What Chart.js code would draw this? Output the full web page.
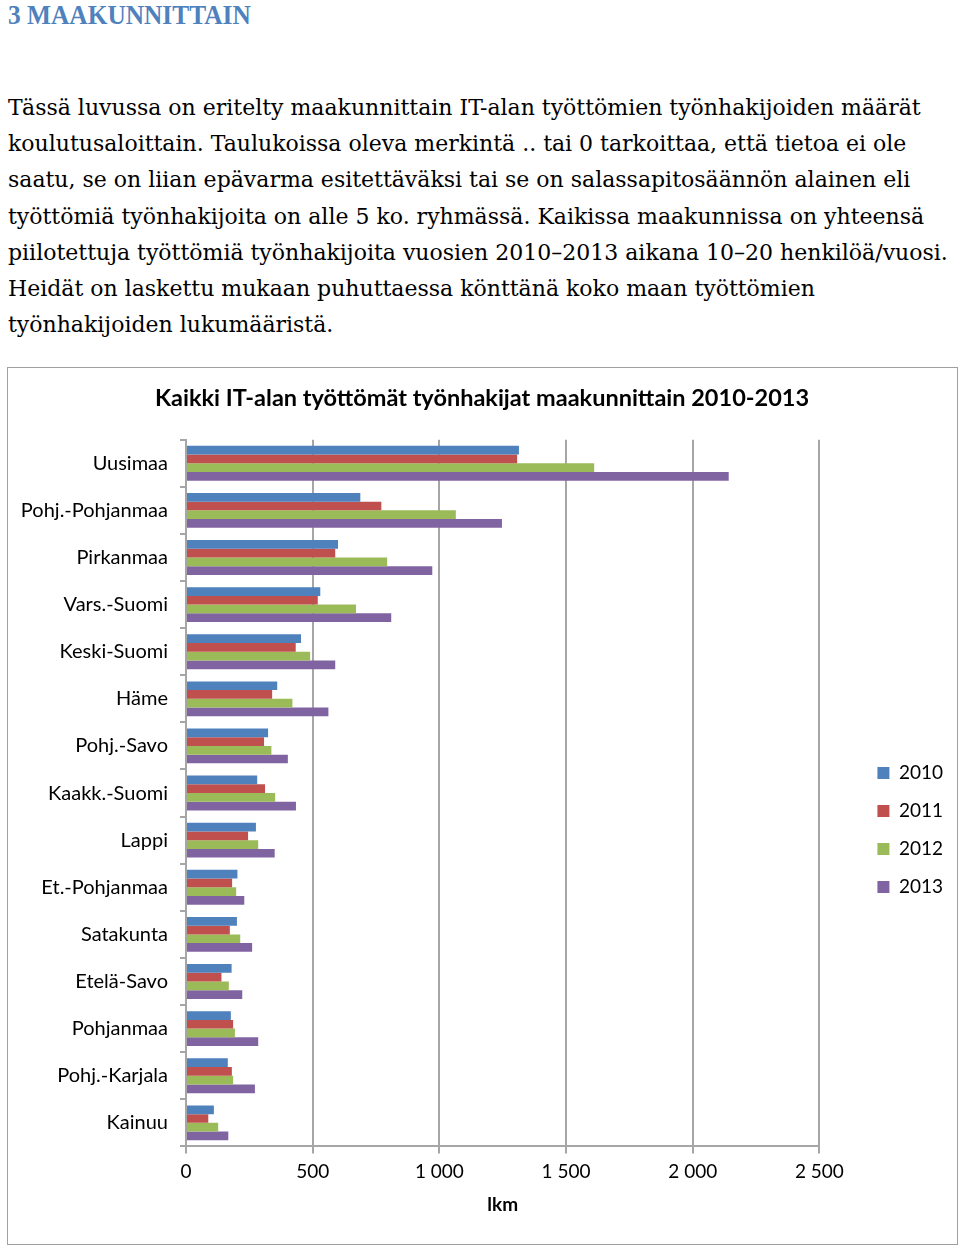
<!DOCTYPE html>
<html>
<head>
<meta charset="utf-8">
<script src="https://cdn.jsdelivr.net/npm/chart.js@4.4.1/dist/chart.umd.min.js"></script>
<style>
  body { margin: 0; background: #fff; width: 960px; height: 1247px; position: relative; overflow: hidden; }
  h1 { position: absolute; left: 8px; top: 0px; margin: 0; font-family: "Liberation Serif", serif; font-weight: bold;
       font-size: 27px; color: #4f81bd; transform: scaleX(0.94); transform-origin: 0 0; }
  .txt { position: absolute; left: 8px; top: 90px; margin: 0; font-family: "DejaVu Serif", serif; font-size: 22px;
         line-height: 36.2px; color: #000; white-space: nowrap; }
  .box { position: absolute; left: 7px; top: 367px; width: 949px; height: 876px; border: 1px solid #a0a0a0; }
  canvas { display: block; }
</style>
</head>
<body>
<h1>3 MAAKUNNITTAIN</h1>
<p class="txt">Tässä luvussa on eritelty maakunnittain IT-alan työttömien työnhakijoiden määrät<br>koulutusaloittain. Taulukoissa oleva merkintä .. tai 0 tarkoittaa, että tietoa ei ole<br>saatu, se on liian epävarma esitettäväksi tai se on salassapitosäännön alainen eli<br>työttömiä työnhakijoita on alle 5 ko. ryhmässä. Kaikissa maakunnissa on yhteensä<br>piilotettuja työttömiä työnhakijoita vuosien 2010–2013 aikana 10–20 henkilöä/vuosi.<br>Heidät on laskettu mukaan puhuttaessa könttänä koko maan työttömien<br>työnhakijoiden lukumääristä.</p>
<div class="box"><canvas id="itChart" width="949" height="876"></canvas></div>
<script>
// Maakunnat ja vuosien arvot (luettu kuvasta)
const regions = ['Uusimaa', 'Pohj.-Pohjanmaa', 'Pirkanmaa', 'Vars.-Suomi', 'Keski-Suomi', 'Häme', 'Pohj.-Savo',
  'Kaakk.-Suomi', 'Lappi', 'Et.-Pohjanmaa', 'Satakunta', 'Etelä-Savo', 'Pohjanmaa', 'Pohj.-Karjala', 'Kainuu'];
const y2010 = [1314, 688, 600, 530, 454, 360, 324, 281, 276, 203, 201, 180, 177, 165, 110];
const y2011 = [1307, 771, 589, 520, 433, 340, 308, 312, 245, 182, 173, 140, 186, 181, 88];
const y2012 = [1611, 1065, 794, 671, 490, 420, 337, 352, 285, 198, 214, 169, 193, 186, 127];
const y2013 = [2142, 1247, 972, 810, 589, 562, 402, 434, 350, 230, 261, 222, 285, 272, 167];
const xTicks = [0, 500, 1000, 1500, 2000, 2500];

const gridColor = '#a6a6a6';
const font = 'Lato';

// siirretään selitettä ja otsikkoa hieman, kuten alkuperäisessä
const layoutShift = {
  id: 'layoutShift',
  afterLayout(chart) {
    const lg = chart.legend;
    lg.left += 39; lg.right += 39;
    lg.top += 38; lg.bottom += 38;
    const t = chart.titleBlock;
    t.left += 21; t.right += 21;
  }
};

const ctx = document.getElementById('itChart').getContext('2d');
new Chart(ctx, {
  type: 'bar',
  data: {
    labels: regions,
    datasets: [
      { label: '2010', data: y2010, backgroundColor: '#4f81bd' },
      { label: '2011', data: y2011, backgroundColor: '#c0504d' },
      { label: '2012', data: y2012, backgroundColor: '#9bbb59' },
      { label: '2013', data: y2013, backgroundColor: '#8064a2' }
    ]
  },
  plugins: [layoutShift],
  options: {
    indexAxis: 'y',
    responsive: false,
    animation: false,
    datasets: { bar: { categoryPercentage: 0.74, barPercentage: 1.0 } },
    layout: { padding: { left: 0, right: 43, top: 0, bottom: 28 } },
    plugins: {
      title: {
        display: true,
        text: 'Kaikki IT-alan työttömät työnhakijat maakunnittain 2010-2013',
        color: '#000',
        font: { family: font, size: 23.5, weight: 'bold' },
        padding: { top: 16.5, bottom: 27 }
      },
      legend: {
        position: 'right',
        labels: { color: '#000', font: { family: font, size: 19 }, boxWidth: 12, boxHeight: 12, padding: 19 }
      },
      tooltip: { enabled: false }
    },
    scales: {
      x: {
        min: 0, max: 2500,
        afterBuildTicks: (s) => { s.ticks = xTicks.map(v => ({ value: v })); },
        ticks: {
          color: '#000', padding: 7, font: { family: font, size: 19 },
          callback: (v) => String(v).replace(/\B(?=(\d{3})+(?!\d))/g, ' ')
        },
        grid: { color: gridColor, lineWidth: 2, tickLength: 7 },
        border: { color: gridColor, width: 2 },
        title: { display: true, text: 'lkm', color: '#000', font: { family: font, size: 19, weight: 'bold' },
                 padding: { top: 3, bottom: 0 } }
      },
      y: {
        afterFit: (s) => { s.width = 178; },
        ticks: { color: '#000', padding: 12, font: { family: font, size: 20 } },
        grid: { color: gridColor, lineWidth: 2, drawOnChartArea: false, tickLength: 6 },
        border: { color: gridColor, width: 2 }
      }
    }
  }
});
</script>
</body>
</html>
